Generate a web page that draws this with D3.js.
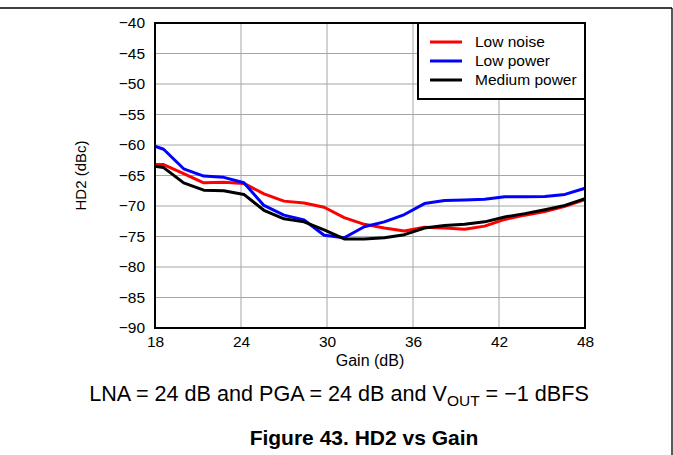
<!DOCTYPE html>
<html>
<head>
<meta charset="utf-8">
<script src="https://cdn.jsdelivr.net/npm/d3@7"></script>
<style>
  html, body { margin: 0; padding: 0; background: #fff; }
  svg { display: block; font-family: "Liberation Sans", Arial, sans-serif; }
</style>
</head>
<body>
<svg id="chart" width="673" height="455"></svg>
<script>
// ---- data ----
const gain = [18, 18.6, 20, 21.4, 22.8, 24.2, 25.6, 27, 28.4, 29.8, 31.2, 32.6, 34, 35.4, 36.8, 38.2, 39.6, 41, 42.4, 43.8, 45.2, 46.6, 48];
const lowNoise = [-63.2, -63.2, -64.7, -66.2, -66.1, -66.3, -68.0, -69.2, -69.5, -70.2, -71.9, -73.0, -73.6, -74.1, -73.5, -73.6, -73.8, -73.3, -72.2, -71.5, -70.9, -70.05, -68.95];
const lowPower = [-60.2, -60.7, -63.9, -65.1, -65.3, -66.2, -69.9, -71.5, -72.3, -74.8, -75.2, -73.4, -72.6, -71.4, -69.6, -69.1, -69.0, -68.9, -68.5, -68.5, -68.45, -68.1, -67.1];
const mediumPower = [-63.5, -63.7, -66.2, -67.4, -67.5, -68.1, -70.7, -72.1, -72.6, -73.9, -75.4, -75.4, -75.2, -74.7, -73.6, -73.2, -73.0, -72.6, -71.8, -71.25, -70.6, -69.9, -68.8];
const seriesNames = ["Low noise", "Low power", "Medium power"];
const seriesColors = ["#ff0000", "#0000ff", "#000000"];
const xTicks = [18, 24, 30, 36, 42, 48];
const yTicks = [-40, -45, -50, -55, -60, -65, -70, -75, -80, -85, -90];

// ---- layout ----
const svg = d3.select("#chart");
const L = 155, R = 585, T = 23, B = 328;
const x = d3.scaleLinear().domain([18, 48]).range([L, R]);
const y = d3.scaleLinear().domain([-90, -40]).range([B, T]);

// page frame
svg.append("line").attr("x1", 0).attr("x2", 672).attr("y1", 8).attr("y2", 8)
  .attr("stroke", "#000").attr("stroke-width", 1.3);
svg.append("line").attr("x1", 672).attr("x2", 672).attr("y1", 8).attr("y2", 455)
  .attr("stroke", "#000").attr("stroke-width", 1.3);

// grid
const grid = svg.append("g");
grid.selectAll(".gx").data(xTicks).join("line")
  .attr("x1", d => x(d)).attr("x2", d => x(d)).attr("y1", T).attr("y2", B)
  .attr("stroke", "#a6a6a6").attr("stroke-width", 1);
grid.selectAll(".gy").data(yTicks).join("line")
  .attr("y1", d => y(d)).attr("y2", d => y(d)).attr("x1", L).attr("x2", R)
  .attr("stroke", "#a6a6a6").attr("stroke-width", 1);

// axes (labels only)
const fmt = d => d < 0 ? "\u2212" + Math.abs(d) : String(d);
const xAxis = svg.append("g").attr("transform", `translate(0,${B})`)
  .call(d3.axisBottom(x).tickValues(xTicks).tickSize(0).tickPadding(8).tickFormat(fmt));
const yAxis = svg.append("g").attr("transform", `translate(${L},0)`)
  .call(d3.axisLeft(y).tickValues(yTicks).tickSize(0).tickPadding(10).tickFormat(fmt));
[xAxis, yAxis].forEach(a => {
  a.select(".domain").remove();
  a.selectAll("text").attr("font-size", 15.5).attr("fill", "#000")
    .attr("font-family", "Liberation Sans, Arial, sans-serif");
});

// lines
const line = d3.line().x((d, i) => x(gain[i])).y(d => y(d));
const allSeries = [lowNoise, lowPower, mediumPower];
svg.append("g").selectAll("path").data(allSeries).join("path")
  .attr("d", d => line(d))
  .attr("fill", "none")
  .attr("stroke", (d, i) => seriesColors[i])
  .attr("stroke-width", 3)
  .attr("stroke-linejoin", "round");

// plot border
svg.append("rect").attr("x", L).attr("y", T).attr("width", R - L).attr("height", B - T)
  .attr("fill", "none").attr("stroke", "#000").attr("stroke-width", 2);

// legend
const lg = svg.append("g");
lg.append("rect").attr("x", 418).attr("y", T).attr("width", R - 418).attr("height", 76)
  .attr("fill", "#fff").attr("stroke", "#000").attr("stroke-width", 2);
seriesNames.forEach((n, i) => {
  const yy = 42 + i * 19;
  lg.append("line").attr("x1", 430).attr("x2", 462).attr("y1", yy).attr("y2", yy)
    .attr("stroke", seriesColors[i]).attr("stroke-width", 3);
  lg.append("text").attr("x", 475).attr("y", yy).attr("dy", "0.35em")
    .attr("font-size", 15.5).text(n);
});

// axis titles
svg.append("text").attr("x", (L + R) / 2).attr("y", 366).attr("text-anchor", "middle")
  .attr("font-size", 16).text("Gain (dB)");
svg.append("text").attr("transform", `translate(86,${(T + B) / 2}) rotate(-90)`)
  .attr("text-anchor", "middle").attr("font-size", 15).text("HD2 (dBc)");

// caption
const cap = svg.append("text").attr("x", 339).attr("y", 401).attr("text-anchor", "middle")
  .attr("font-size", 21.6);
cap.append("tspan").text("LNA = 24 dB and PGA = 24 dB and V");
cap.append("tspan").attr("dy", 5).attr("font-size", 15.5).text("OUT");
cap.append("tspan").attr("dy", -5).text(" = \u22121 dBFS");

svg.append("text").attr("x", 364).attr("y", 445).attr("text-anchor", "middle")
  .attr("font-size", 21).attr("font-weight", "bold").text("Figure 43. HD2 vs Gain");
</script>
</body>
</html>
